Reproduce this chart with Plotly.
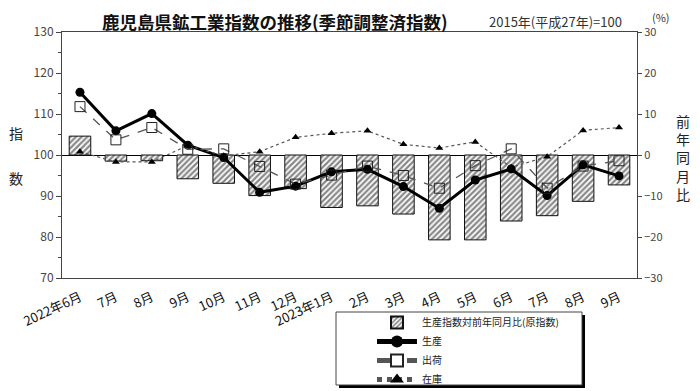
import plotly.graph_objects as go

months = ["2022年6月", "7月", "8月", "9月", "10月", "11月", "12月", "2023年1月",
          "2月", "3月", "4月", "5月", "6月", "7月", "8月", "9月"]
yoy_change = [4.6, -1.5, -1.4, -5.8, -6.9, -9.9, -8.2, -12.8,
              -12.4, -14.4, -20.7, -20.7, -16.1, -14.8, -11.3, -7.3]
production = [115.3, 105.9, 110.1, 102.4, 99.4, 90.9, 92.4, 95.9,
              96.5, 92.3, 87.0, 93.9, 96.6, 90.1, 97.6, 94.9]
shipments = [111.8, 103.7, 106.7, 101.4, 101.5, 97.2, 92.9, 95.1,
             97.3, 95.0, 91.9, 97.4, 101.5, 91.9, 97.3, 98.6]
inventory = [100.8, 98.3, 98.3, 102.3, 99.8, 100.8, 104.3, 105.3,
             105.9, 102.6, 101.7, 103.2, 97.0, 99.6, 106.0, 106.7]
left_ticks = [70, 80, 90, 100, 110, 120, 130]
right_ticks = [-30, -20, -10, 0, 10, 20, 30]

x = list(range(len(months)))
FONT = "Noto Sans CJK JP"

fig = go.Figure()
fig.add_trace(go.Bar(
    x=x, y=yoy_change, name="生産指数対前年同月比(原指数)", yaxis="y",
    width=0.6,
    marker=dict(color="white", line=dict(color="#111", width=1),
                pattern=dict(shape="/", fgcolor="#111", bgcolor="white",
                             size=4, solidity=0.55)),
))
fig.add_trace(go.Scatter(
    x=x, y=production, name="生産", yaxis="y2", mode="lines+markers",
    line=dict(color="black", width=3),
    marker=dict(symbol="circle", size=9, color="black"),
))
fig.add_trace(go.Scatter(
    x=x, y=shipments, name="出荷", yaxis="y2", mode="lines+markers",
    line=dict(color="#555", width=1.3, dash="dash"),
    marker=dict(symbol="square-open", size=10, color="#222", line=dict(width=1)),
))
fig.add_trace(go.Scatter(
    x=x, y=inventory, name="在庫", yaxis="y2", mode="lines+markers",
    line=dict(color="#555", width=1.2, dash="dot"),
    marker=dict(symbol="triangle-up", size=7, color="black"),
))

# page body has an 8px margin; work in screen pixels and convert
OFF = 8
W, H = 700 - OFF, 391 - OFF
SL, SR, ST, SB = 62, 637, 32, 278     # plot box in screen pixels
L = SL - OFF
R = W - (SR - OFF)
T = ST - OFF
B = H - (SB - OFF)
pw = SR - SL
ph = SB - ST

def px(xs):
    return (xs - SL) / pw

def py(ys):
    return (SB - ys) / ph

fig.update_layout(
    width=W, height=H,
    margin=dict(l=L, r=R, t=T, b=B, autoexpand=False),
    paper_bgcolor="white", plot_bgcolor="white",
    font=dict(family=FONT, color="#222"),
    showlegend=True,
    bargap=0.4,
    xaxis=dict(
        range=[-0.5, 15.5], tickmode="array", tickvals=x, ticktext=months,
        tickangle=-25, showgrid=False, zeroline=False,
        showline=True, linecolor="#444", linewidth=1, mirror=True,
        ticks="", ticklabelstandoff=6,
        tickfont=dict(size=13, color="#111", family=FONT),
    ),
    yaxis=dict(
        side="right", range=[-30, 30], tickvals=right_ticks,
        showgrid=False, zeroline=True, zerolinecolor="black", zerolinewidth=1,
        showline=True, linecolor="#444", linewidth=1,
        ticks="outside", ticklen=4, tickcolor="#444",
        tickfont=dict(size=11, color="#444", family=FONT),
    ),
    yaxis2=dict(
        side="left", overlaying="y", range=[70, 130], tickvals=left_ticks,
        showgrid=False, zeroline=False,
        showline=True, linecolor="#444", linewidth=1,
        ticks="outside", ticklen=5, tickcolor="#444",
        minor=dict(dtick=5, ticks="outside", ticklen=3, tickcolor="#444"),
        tickfont=dict(size=12, color="#444", family=FONT),
    ),
    legend=dict(
        x=px(372), y=py(308), xanchor="left", yanchor="top",
        bgcolor="rgba(0,0,0,0)", borderwidth=0,
        font=dict(size=10, family=FONT, color="#222"),
        itemwidth=40, tracegroupgap=0, itemsizing="constant",
    ),
)

# legend box with shadow
fig.add_shape(type="rect", xref="paper", yref="paper",
              x0=px(339), x1=px(585), y0=py(315), y1=py(388),
              fillcolor="black", line=dict(width=0), layer="below")
fig.add_shape(type="rect", xref="paper", yref="paper",
              x0=px(336), x1=px(582), y0=py(312), y1=py(385),
              fillcolor="white", line=dict(color="#444", width=1), layer="below")

def note(text, xs, ys, size, color="#222"):
    fig.add_annotation(text=text, xref="paper", yref="paper", x=px(xs), y=py(ys),
                       xanchor="center", yanchor="middle", showarrow=False,
                       font=dict(size=size, family=FONT, color=color))

note("<b>鹿児島県鉱工業指数の推移(季節調整済指数)</b>", 275, 21, 17.5, "#111")
note("2015年(平成27年)=100", 555, 22, 13, "#333")
note("(%)", 661, 17, 11, "#333")
note("指", 16, 133, 14)
note("数", 16, 178, 14)
note("前<br>年<br>同<br>月<br>比", 683, 157, 14)

fig.write_html("out.html")
